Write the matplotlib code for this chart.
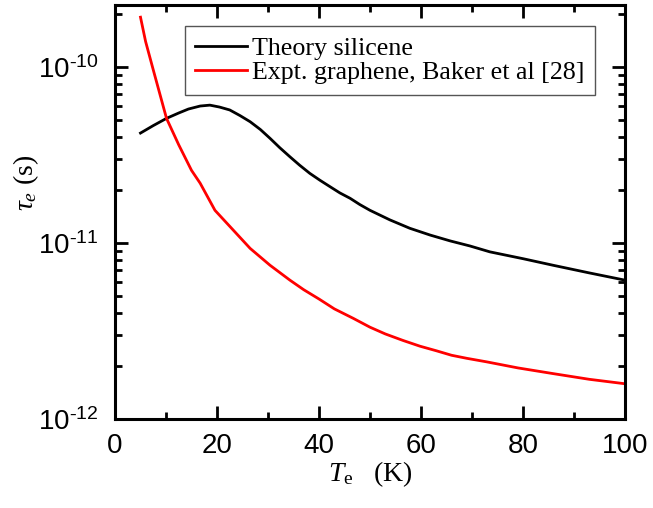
import matplotlib
matplotlib.use("Agg")
import matplotlib.pyplot as plt
from matplotlib.ticker import FixedLocator, NullFormatter, LogLocator
from matplotlib.legend_handler import HandlerLine2D
from matplotlib.lines import Line2D

# Data
T_silicene = [5, 7.5, 10.1, 12.5, 14.4, 16.7, 18.6, 20.5, 22.5, 24.5, 26.5, 28.5, 30.4, 32.3, 34.3, 36.2,
              38.2, 40.2, 42.2, 44.1, 46.1, 48, 50, 53.9, 57.8, 61.8, 65.7, 69.6, 73.5, 80, 85.9, 92.9, 100]
tau_silicene = [4.2e-11, 4.63e-11, 5.09e-11, 5.46e-11, 5.75e-11, 5.98e-11, 6.05e-11, 5.9e-11, 5.68e-11, 5.28e-11,
                4.87e-11, 4.4e-11, 3.92e-11, 3.47e-11, 3.08e-11, 2.76e-11, 2.48e-11, 2.265e-11, 2.08e-11, 1.92e-11,
                1.79e-11, 1.65e-11, 1.53e-11, 1.35e-11, 1.21e-11, 1.107e-11, 1.026e-11, 9.6e-12, 8.89e-12,
                8.13e-12, 7.46e-12, 6.76e-12, 6.14e-12]

T_graphene = [5, 6, 7.5, 10.1, 12.5, 15, 16.7, 19.6, 23.2, 26.5, 30.4, 34.3, 37, 40, 43, 46.7, 50, 53,
              56.5, 59.8, 63, 66, 69, 72.9, 79, 85.9, 93, 100]
tau_graphene = [1.91e-10, 1.39e-10, 9.6e-11, 5.09e-11, 3.6e-11, 2.58e-11, 2.18e-11, 1.53e-11, 1.18e-11, 9.3e-12,
                7.46e-12, 6.14e-12, 5.42e-12, 4.8e-12, 4.22e-12, 3.73e-12, 3.32e-12, 3.04e-12, 2.79e-12, 2.59e-12,
                2.44e-12, 2.3e-12, 2.21e-12, 2.11e-12, 1.95e-12, 1.81e-12, 1.68e-12, 1.585e-12]

label_silicene = "Theory silicene"
label_graphene = "Expt. graphene, Baker et al [28]"

x_ticks = [0, 20, 40, 60, 80, 100]
y_ticks = [1e-12, 1e-11, 1e-10]
y_ticklabels = [r"$\mathregular{10^{\text{-}12}}$", r"$\mathregular{10^{\text{-}11}}$", r"$\mathregular{10^{\text{-}10}}$"]

plt.rcParams['mathtext.fontset'] = 'custom'
plt.rcParams['mathtext.rm'] = 'Liberation Serif'
plt.rcParams['mathtext.it'] = 'Liberation Serif:italic'
plt.rcParams['font.family'] = ['Liberation Sans', 'DejaVu Sans']

fig = plt.figure(figsize=(6.53, 5.08), dpi=100)
ax = fig.add_axes([115/653, 89/508, 510/653, 414/508])

ax.plot(T_silicene, tau_silicene, color='black', lw=2.0, label=label_silicene)
ax.plot(T_graphene, tau_graphene, color='red', lw=2.0, label=label_graphene)

ax.set_yscale('log')
ax.set_xlim(0, 100)
ax.set_ylim(1e-12, 2.24e-10)

ax.xaxis.set_major_locator(FixedLocator(x_ticks))
ax.xaxis.set_minor_locator(FixedLocator([10, 30, 50, 70, 90]))
ax.set_xticklabels([str(v) for v in x_ticks])
ax.yaxis.set_major_locator(FixedLocator(y_ticks))
ax.set_yticklabels(y_ticklabels)
ax.yaxis.set_minor_locator(LogLocator(base=10, subs=range(2, 10)))
ax.yaxis.set_minor_formatter(NullFormatter())

for s in ax.spines.values():
    s.set_linewidth(2.2)
ax.tick_params(which='both', direction='in', top=True, right=True, width=2.0)
ax.tick_params(which='major', length=9.5, labelsize=20, pad=10)
ax.tick_params(axis='y', which='major', pad=12)
ax.tick_params(which='minor', length=5)

ax.set_xlabel(r"$T_{\mathrm{e}}\enspace\,$ (K)", family='Liberation Serif', fontsize=20, labelpad=0)
ax.set_ylabel(r"$\tau_e$ (s)", family='Liberation Serif', fontsize=20)
ax.yaxis.set_label_coords(-0.145, 0.57)


class ShortLineHandler(HandlerLine2D):
    def create_artists(self, legend, orig_handle, xdescent, ydescent, width, height, fontsize, trans):
        artists = super().create_artists(legend, orig_handle, xdescent, ydescent, width, height, fontsize, trans)
        for a in artists:
            if isinstance(a, Line2D) and len(a.get_xdata()) == 2:
                x0, x1 = a.get_xdata()
                a.set_xdata([x1 - 0.71 * (x1 - x0), x1])
        return artists


leg = ax.legend(loc='upper left', bbox_to_anchor=(0.137, 0.949), borderaxespad=0,
                prop={'family': 'Liberation Serif', 'size': 18.7}, frameon=True, fancybox=False,
                edgecolor='#555555', framealpha=1, handlelength=2.0, handletextpad=0.2,
                labelspacing=0.05, borderpad=0.4,
                handler_map={Line2D: ShortLineHandler()})
leg.get_frame().set_linewidth(1.0)

fig.savefig('out.png', dpi=100)
